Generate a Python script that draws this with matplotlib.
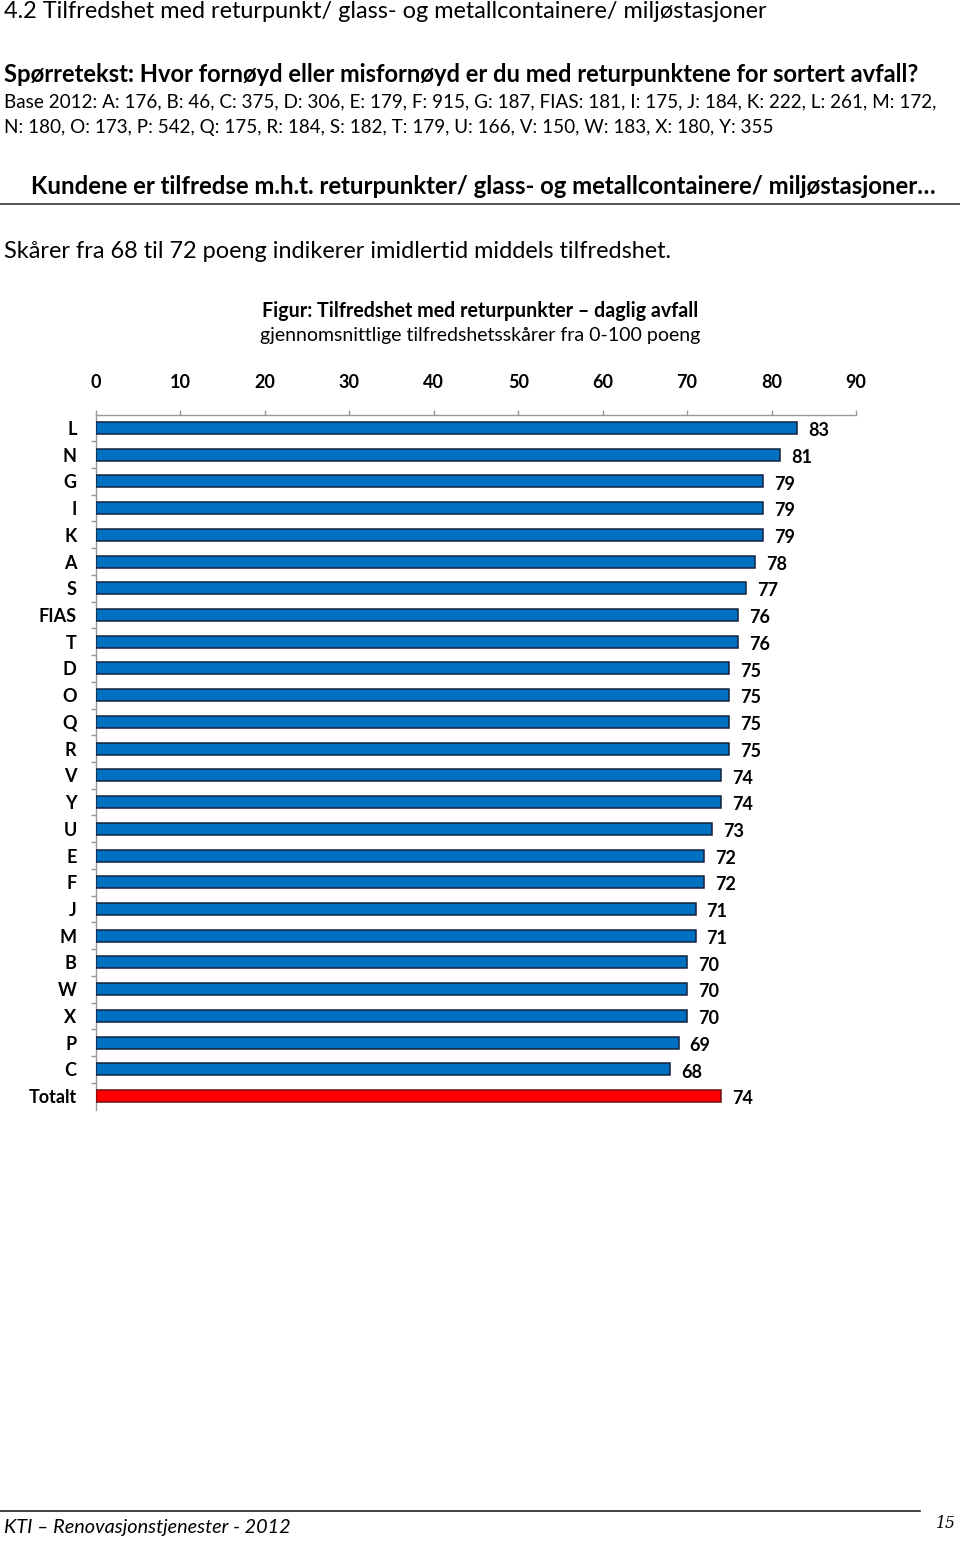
import matplotlib
matplotlib.use("Agg")
import matplotlib.pyplot as plt
from matplotlib.lines import Line2D

categories = ["L", "N", "G", "I", "K", "A", "S", "FIAS", "T", "D", "O", "Q", "R",
              "V", "Y", "U", "E", "F", "J", "M", "B", "W", "X", "P", "C", "Totalt"]
values = [83, 81, 79, 79, 79, 78, 77, 76, 76, 75, 75, 75, 75,
          74, 74, 73, 72, 72, 71, 71, 70, 70, 70, 69, 68, 74]
xticks = [0, 10, 20, 30, 40, 50, 60, 70, 80, 90]

FONT = ["Lato", "DejaVu Sans"]
plt.rcParams["font.family"] = FONT

W, H = 960, 1541
fig = plt.figure(figsize=(W / 100, H / 100), dpi=100)
fig.canvas.draw()
renderer = fig.canvas.get_renderer()


def fitted_text(x_px, y_px, s, width_px, base=12, ha="left", weight="normal",
                style="normal", family=None):
    t = fig.text(x_px / W, 1 - y_px / H, s, ha=ha, va="center", fontsize=base,
                 fontweight=weight, fontstyle=style, family=family or FONT)
    bb = t.get_window_extent(renderer=renderer)
    t.set_fontsize(base * width_px / bb.width)
    return t


fitted_text(4, 12, "4.2 Tilfredshet med returpunkt/ glass- og metallcontainere/ miljøstasjoner", 761)
fitted_text(4, 74, "Spørretekst: Hvor fornøyd eller misfornøyd er du med returpunktene for sortert avfall?", 911, weight="bold")
fitted_text(4, 102, "Base 2012: A: 176, B: 46, C: 375, D: 306, E: 179, F: 915, G: 187, FIAS: 181, I: 175, J: 184, K: 222, L: 261, M: 172,", 928)
fitted_text(4, 128, "N: 180, O: 173, P: 542, Q: 175, R: 184, S: 182, T: 179, U: 166, V: 150, W: 183, X: 180, Y: 355", 766)
fitted_text(31, 187, "Kundene er tilfredse m.h.t. returpunkter/ glass- og metallcontainere/ miljøstasjoner…", 899, weight="bold")
fig.add_artist(Line2D([0, 1], [1 - 204 / H, 1 - 204 / H], color="#333333", lw=1.2))
fitted_text(4, 252, "Skårer fra 68 til 72 poeng indikerer imidlertid middels tilfredshet.", 664)
fitted_text(480, 311, "Figur: Tilfredshet med returpunkter – daglig avfall", 434, ha="center", weight="bold")
fitted_text(480, 336, "gjennomsnittlige tilfredshetsskårer fra 0-100 poeng", 438, ha="center")

# footer
fig.add_artist(Line2D([0, 920 / W], [1 - 1511 / H, 1 - 1511 / H], color="#222222", lw=1.2))
fitted_text(4, 1528, "KTI – Renovasjonstjenester - 2012", 286, style="italic")
fitted_text(956, 1524, "15", 20, ha="right", style="italic", family=["DejaVu Serif"])

# chart
left_px, right_px = 96, 856
top_px, bottom_px = 414.5, 1109.5
ax = fig.add_axes([left_px / W, 1 - bottom_px / H, (right_px - left_px) / W,
                   (bottom_px - top_px) / H])
n = len(categories)
ypos = list(range(n))
colors = ["#0070C0"] * (n - 1) + ["#FF0000"]
edges = ["#14213D"] * (n - 1) + ["#6B0F0F"]
ax.barh(ypos, values, height=0.45, color=colors, edgecolor=edges, linewidth=1.1, zorder=3)
ax.set_xlim(0, 90)
ax.set_ylim(n - 0.5, -0.5)
ax.xaxis.tick_top()
ax.set_xticks(xticks)
ax.set_xticklabels([str(v) for v in xticks], fontsize=13, fontweight="bold")
ax.tick_params(axis="x", direction="out", length=3.7, width=1, color="#999999", pad=13)
ax.set_yticks([i + 0.5 for i in range(n - 1)])
ax.set_yticklabels([])
ax.set_yticks(ypos, minor=True)
ax.set_yticklabels(categories, minor=True, fontsize=13, fontweight="bold")
ax.tick_params(axis="y", which="major", direction="out", length=3.7, width=1, color="#999999")
ax.tick_params(axis="y", which="minor", length=0, pad=14)
for s in ["right", "bottom"]:
    ax.spines[s].set_visible(False)
for s in ["top", "left"]:
    ax.spines[s].set_color("#999999")
    ax.spines[s].set_linewidth(1)
for y, v in zip(ypos, values):
    ax.text(v + 1.3, y + 0.1, f"{v:d}", va="center", ha="left", fontsize=13,
            fontweight="bold")

fig.savefig("out.png", dpi=100)
